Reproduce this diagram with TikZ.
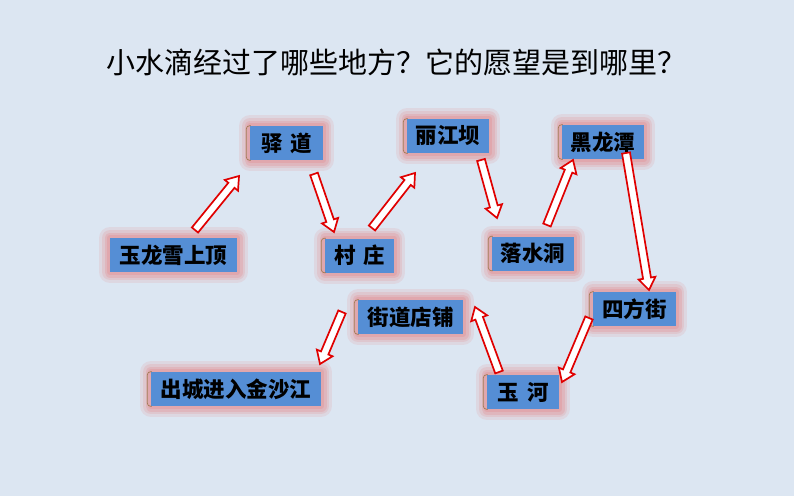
\documentclass[tikz,border=0pt]{standalone}
\usepackage{fontspec}
\newfontfamily\cjk{Noto Sans CJK SC}
\usetikzlibrary{calc}
\definecolor{bgc}{HTML}{DCE6F2}
\definecolor{boxc}{HTML}{558ED5}
\definecolor{glowc}{HTML}{E86E6E}
\definecolor{brkc}{HTML}{A07850}
\definecolor{arrc}{HTML}{E00000}
\tikzset{
  place/.style={fill=boxc, minimum height=34pt, inner sep=0pt, text=black,
    font=\cjk\bfseries\fontsize{21.5}{24}\selectfont,
    preaction={draw=glowc, line width=22pt, opacity=.12, line join=round},
    preaction={draw=glowc, line width=16pt, opacity=.15, line join=round},
    preaction={draw=glowc, line width=11pt, opacity=.18, line join=round},
    preaction={draw=glowc, line width=6pt, opacity=.20, line join=round}},
  brk/.style={draw=brkc, line width=0.7pt, rounded corners=3pt},
  blockarrow/.style={draw=arrc, fill=white, line width=1.7pt, line join=miter},
  titletext/.style={font=\cjk\fontsize{29}{32}\selectfont, text=black, inner sep=0pt}
}
\newcommand\blockarr[2]{%
  \coordinate (hb) at ($(#2)!12pt!(#1)$);
  \draw[blockarrow] ($(#1)!4pt!90:(#2)$) -- ($(hb)!4pt!-90:(#1)$) -- ($(hb)!8.5pt!-90:(#1)$)
    -- (#2) -- ($(hb)!8.5pt!90:(#1)$) -- ($(hb)!4pt!90:(#1)$) -- ($(#1)!4pt!-90:(#2)$) -- cycle;}
\begin{document}
\begin{tikzpicture}[x=1pt,y=-1pt]
\fill[bgc] (0,0) rectangle (794,496);
\useasboundingbox (0,0) rectangle (794,496);
\node[titletext] (title) at (396,62) {小水滴经过了哪些地方？它的愿望是到哪里？};
% places
\node[place, minimum width=127pt] (ylx) at (173.5,255) {玉龙雪上顶};
\node[place, minimum width=73pt] (yd) at (286.5,143) {驿\hspace{8pt}道};
\node[place, minimum width=69pt] (cz) at (359.5,255.5) {村\hspace{8pt}庄};
\node[place, minimum width=82pt] (ljb) at (448,136) {丽江坝};
\node[place, minimum width=82pt] (lsd) at (533,253.5) {落水洞};
\node[place, minimum width=82pt] (hlt) at (603,142) {黑龙潭};
\node[place, minimum width=83pt] (sfj) at (634.5,309) {四方街};
\node[place, minimum width=72pt] (yh) at (523,392) {玉\hspace{8pt}河};
\node[place, minimum width=105pt] (jddp) at (410.5,317) {街道店铺};
\node[place, minimum width=170pt] (cc) at (236,389) {出城进入金沙江};
\foreach \n in {yd,cz,ljb,lsd,hlt,sfj,yh,jddp,cc}
  \draw[brk] ([xshift=1pt]\n.north west) -- ([xshift=-3.5pt]\n.north west)
    -- ([xshift=-3.5pt]\n.south west) -- ([xshift=1pt]\n.south west);
% arrow ends
\coordinate (a1s) at (195,230); \coordinate (a1e) at (239,176);
\coordinate (a2s) at (314,174); \coordinate (a2e) at (334,232);
\coordinate (a3s) at (372,228); \coordinate (a3e) at (415,173);
\coordinate (a4s) at (481,160); \coordinate (a4e) at (497,218);
\coordinate (a5s) at (547,225); \coordinate (a5e) at (573,160);
\coordinate (a6s) at (626,153); \coordinate (a6e) at (649,290);
\coordinate (a7s) at (589,318); \coordinate (a7e) at (562,382);
\coordinate (a8s) at (499,372); \coordinate (a8e) at (475,307);
\coordinate (a9s) at (342,312); \coordinate (a9e) at (320,364);
\blockarr{a1s}{a1e}
\blockarr{a2s}{a2e}
\blockarr{a3s}{a3e}
\blockarr{a4s}{a4e}
\blockarr{a5s}{a5e}
\blockarr{a6s}{a6e}
\blockarr{a7s}{a7e}
\blockarr{a8s}{a8e}
\blockarr{a9s}{a9e}
\end{tikzpicture}
\end{document}
